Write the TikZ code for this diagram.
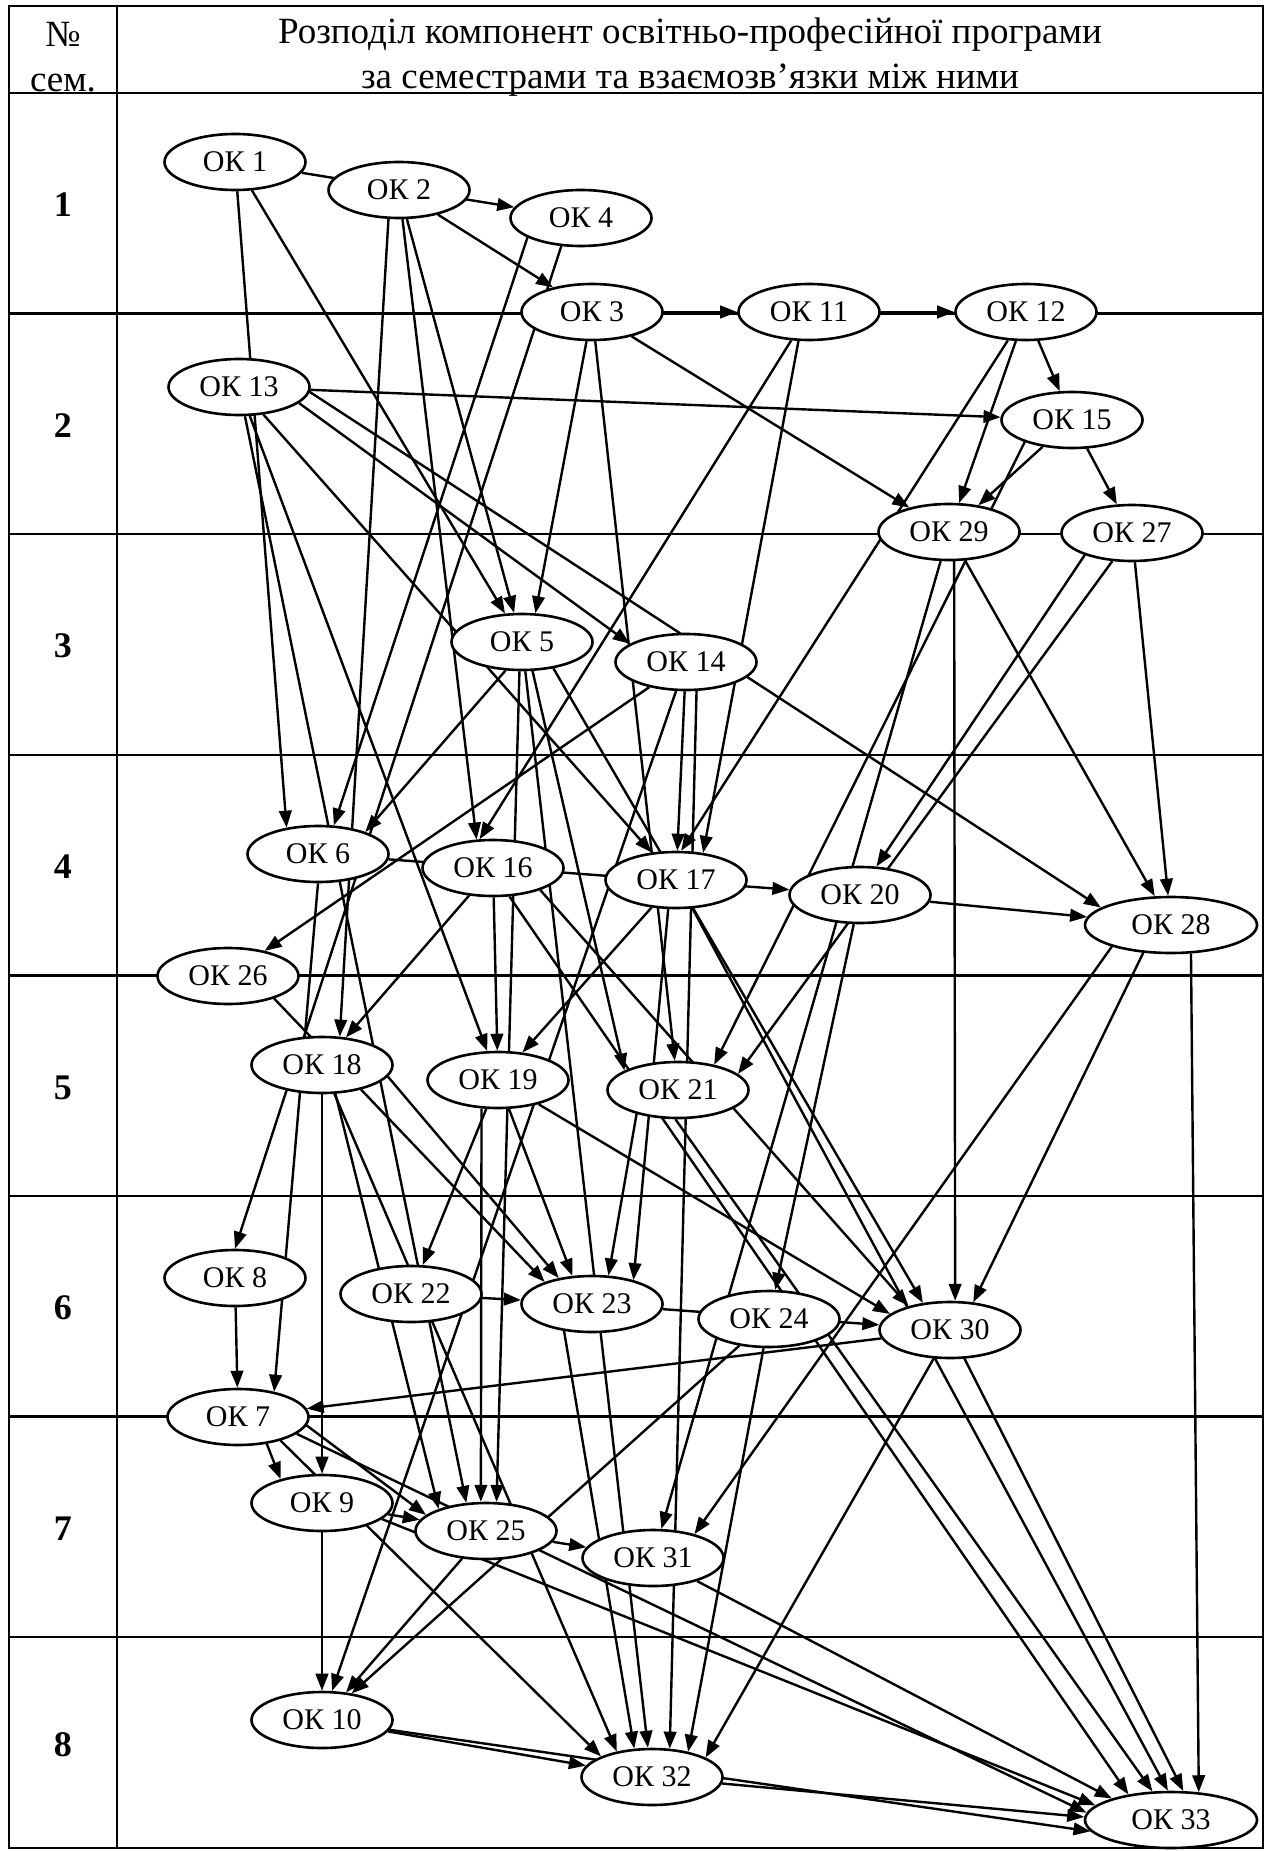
\documentclass[tikz,border=0pt]{standalone}
\usepackage{fontspec}
\setmainfont{Liberation Serif}
\usetikzlibrary{arrows.meta,shapes.geometric,backgrounds}

\begin{document}
\begin{tikzpicture}[
  x=0.5pt,y=-0.5pt,
  ok/.style={ellipse,draw,fill=white,line width=1.3pt,inner sep=0pt,
             minimum width=70.5pt,minimum height=28pt,
             font=\fontsize{15}{18}\selectfont},
  okw/.style={ok,minimum width=86pt},
  arr/.style={-{Triangle[length=8.5pt,width=6.3pt]},line width=1.2pt},
  tbl/.style={line width=1.2pt},
  sem/.style={font=\fontsize{18}{22}\selectfont\bfseries},
  hdr/.style={align=center,font=\fontsize{18.5}{22.5}\selectfont}
]
\useasboundingbox (0,0) rectangle (1266,1851);

% Header
\node[hdr] (hnum) at (63,57) {№\\сем.};
\node[hdr] (htxt) at (690,57) {Розподіл компонент освітньо-професійної програми\\
  за семестрами та взаємозв’язки між ними};

% Semester numbers
\node[sem] (s1) at (63,205) {1};
\node[sem] (s2) at (63,426) {2};
\node[sem] (s3) at (63,646) {3};
\node[sem] (s4) at (63,867) {4};
\node[sem] (s5) at (63,1088) {5};
\node[sem] (s6) at (63,1308) {6};
\node[sem] (s7) at (63,1529) {7};
\node[sem] (s8) at (63,1745) {8};

% Semester 1
\node[ok] (ok1) at (235,162) {ОК 1};
\node[ok] (ok2) at (399,190) {ОК 2};
\node[ok] (ok4) at (581,218) {ОК 4};

% Semester 2
\node[ok] (ok3) at (592,312) {ОК 3};
\node[ok] (ok11) at (809,312) {ОК 11};
\node[ok] (ok12) at (1026,312) {ОК 12};
\node[ok] (ok13) at (239,387) {ОК 13};
\node[ok] (ok15) at (1072,420) {ОК 15};

% Semester 3
\node[ok] (ok29) at (949,532) {ОК 29};
\node[ok] (ok27) at (1132,533) {ОК 27};
\node[ok] (ok5) at (522,642) {ОК 5};
\node[ok] (ok14) at (686,662) {ОК 14};

% Semester 4
\node[ok] (ok6) at (318,854) {ОК 6};
\node[ok] (ok16) at (493,868) {ОК 16};
\node[ok] (ok17) at (676,880) {ОК 17};
\node[ok] (ok20) at (860,895) {ОК 20};
\node[okw] (ok28) at (1171,925) {ОК 28};
\node[ok] (ok26) at (228,976) {ОК 26};

% Semester 5
\node[ok] (ok18) at (322,1065) {ОК 18};
\node[ok] (ok19) at (498,1080) {ОК 19};
\node[ok] (ok21) at (678,1090) {ОК 21};

% Semester 6
\node[ok] (ok8) at (235,1278) {ОК 8};
\node[ok] (ok22) at (411,1294) {ОК 22};
\node[ok] (ok23) at (592,1304) {ОК 23};
\node[ok] (ok24) at (769,1319) {ОК 24};
\node[ok] (ok30) at (950,1330) {ОК 30};

% Semester 7
\node[ok] (ok7) at (238,1417) {ОК 7};
\node[ok] (ok9) at (322,1503) {ОК 9};
\node[ok] (ok25) at (486,1531) {ОК 25};
\node[ok] (ok31) at (653,1558) {ОК 31};

% Semester 8
\node[ok] (ok10) at (322,1720) {ОК 10};
\node[ok] (ok32) at (652,1777) {ОК 32};
\node[okw] (ok33) at (1171,1820) {ОК 33};

\begin{pgfonlayer}{background}
% Table
\draw[tbl] (9,6) rectangle (1263,1848);
\draw[tbl] (116.7,6) -- (116.7,1848);
\draw[tbl] (9,93) -- (1263,93);
\draw[tbl] (9,313.6) -- (1263,313.6);
\draw[tbl] (9,534.2) -- (1263,534.2);
\draw[tbl] (9,754.8) -- (1263,754.8);
\draw[tbl] (9,975.4) -- (1263,975.4);
\draw[tbl] (9,1196) -- (1263,1196);
\draw[tbl] (9,1416.6) -- (1263,1416.6);
\draw[tbl] (9,1637.2) -- (1263,1637.2);

% Arrows, semester 1
\draw[arr] (ok1) -- (ok4);
\draw[arr] (ok1) -- (ok6.140);
\draw[arr] (ok1) -- (ok5);
\draw[arr] (ok2) -- (ok3);
\draw[arr] (ok2) -- (ok5);
\draw[arr] (ok2) -- (ok16.120);
\draw[arr] (ok2.250) -- (ok18.58);
\draw[arr] (ok4.200) -- (ok6.61);
\draw[arr] (ok4.235) -- (ok8.north);

% Arrows, semester 2
\draw[arr] (ok3) -- (ok11);
\draw[arr] (ok3) -- (ok5.65);
\draw[arr] (ok3) -- (ok21);
\draw[arr] (ok3) -- (ok29);
\draw[arr] (ok11) -- (ok12);
\draw[arr] (ok11) -- (ok16.115);
\draw[arr] (ok11.250) -- (ok17.45);
\draw[arr] (ok12) -- (ok15);
\draw[arr] (ok12) -- (ok29);
\draw[arr] (ok12) -- (ok17.80);
\draw[arr] (ok13) -- (ok15);
\draw[arr] (ok13.345) -- (ok14.162);
\draw[arr] (ok13.356) -- (ok28.166);
\draw[arr] (ok13) -- (ok17);
\draw[arr] (ok13) -- (ok25.125);
\draw[arr] (ok13) -- (ok19);
\draw[arr] (ok15) -- (ok29);
\draw[arr] (ok15) -- (ok27);
\draw[arr] (ok15.205) -- (ok21.35);

% Arrows, semester 3
\draw[arr] (ok29) -- (ok31);
\draw[arr] (ok29.280) -- (ok30.80);
\draw[arr] (ok29) -- (ok28);
\draw[arr] (ok27.205) -- (ok20.60);
\draw[arr] (ok27.235) -- (ok21.15);
\draw[arr] (ok27) -- (ok28);
\draw[arr] (ok5.240) -- (ok6.25);
\draw[arr] (ok5.290) -- (ok21.160);
\draw[arr] (ok5.320) -- (ok30.135);
\draw[arr] (ok5) -- (ok32.98);
\draw[arr] (ok5.265) -- (ok25.70);
\draw[arr] (ok14) -- (ok17);
\draw[arr] (ok14) -- (ok26);
\draw[arr] (ok14.290) -- (ok32.58);
\draw[arr] (ok14) -- (ok10);

% Arrows, semester 4
\draw[arr] (ok6) -- (ok20);
\draw[arr] (ok6.south) -- (ok7.35);
\draw[arr] (ok16) -- (ok18);
\draw[arr] (ok16) -- (ok19);
\draw[arr] (ok16.300) -- (ok33.149);
\draw[arr] (ok16.335) -- (ok30.150);
\draw[arr] (ok17) -- (ok19);
\draw[arr] (ok17.300) -- (ok33.96);
\draw[arr] (ok17.255) -- (ok23.30);
\draw[arr] (ok20) -- (ok28);
\draw[arr] (ok20) -- (ok24);
\draw[arr] (ok28.305) -- (ok33.45);
\draw[arr] (ok28.225) -- (ok30.50);
\draw[arr] (ok28.200) -- (ok31.30);
\draw[arr] (ok26.334) -- (ok23.155);

% Arrows, semester 5
\draw[arr] (ok18) -- (ok9);
\draw[arr] (ok18.295) -- (ok25.155);
\draw[arr] (ok18) -- (ok32.144);
\draw[arr] (ok18.350) -- (ok23.142);
\draw[arr] (ok19) -- (ok22);
\draw[arr] (ok19.240) -- (ok25.100);
\draw[arr] (ok19) -- (ok23.125);
\draw[arr] (ok19) -- (ok30.165);
\draw[arr] (ok21.210) -- (ok23.60);
\draw[arr] (ok21.265) -- (ok33.123);

% Arrows, semester 6
\draw[arr] (ok8) -- (ok7);
\draw[arr] (ok22) -- (ok23);
\draw[arr] (ok23) -- (ok30);
\draw[arr] (ok23.224) -- (ok32.122);
\draw[arr] (ok24) -- (ok10);
\draw[arr] (ok24) -- (ok32.35);
\draw[arr] (ok30) -- (ok7);
\draw[arr] (ok30) -- (ok32.20);
\draw[arr] (ok30) -- (ok33.67);

% Arrows, semester 7
\draw[arr] (ok7.317) -- (ok9.150);
\draw[arr] (ok7.331) -- (ok32.158);
\draw[arr] (ok7.353) -- (ok25.165);
\draw[arr] (ok7.344) -- (ok33.175);
\draw[arr] (ok9) -- (ok25);
\draw[arr] (ok9) -- (ok10);
\draw[arr] (ok9.345) -- (ok33.169);
\draw[arr] (ok25) -- (ok31);
\draw[arr] (ok25) -- (ok10);
\draw[arr] (ok31) -- (ok33.160);

% Arrows, semester 8
\draw[arr] (ok10) -- (ok32);
\draw[arr] (ok10) -- (ok33.188);
\draw[arr] (ok32) -- (ok33.178);
\end{pgfonlayer}

\end{tikzpicture}
\end{document}
